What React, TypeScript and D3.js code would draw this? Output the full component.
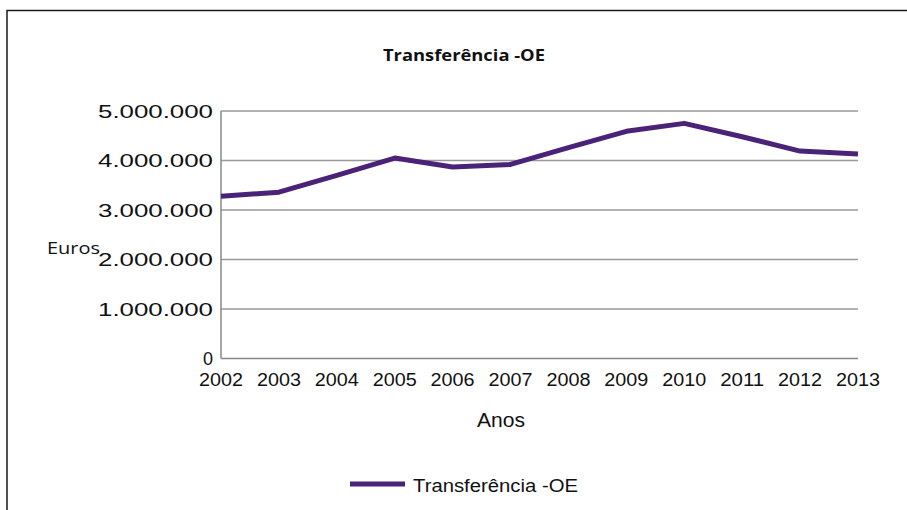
import React, { useRef, useEffect } from 'react';
import * as d3 from 'd3';

const years = ['2002', '2003', '2004', '2005', '2006', '2007', '2008', '2009', '2010', '2011', '2012', '2013'];
const transferencia = [3280000, 3360000, 3700000, 4050000, 3870000, 3920000, 4260000, 4590000, 4750000, 4480000, 4190000, 4130000];
const yTicks = [0, 1000000, 2000000, 3000000, 4000000, 5000000];
const seriesName = 'Transferência -OE';

const W = 907;
const H = 510;

export default function App() {
  const ref = useRef<SVGSVGElement>(null);

  useEffect(() => {
    const svg = d3.select(ref.current);
    svg.selectAll('*').remove();

    const left = 221, right = 858, top = 111, bottom = 358.5;
    const x = d3.scalePoint().domain(years).range([left, right]);
    const y = d3.scaleLinear().domain([0, 5000000]).range([bottom, top]);
    const fmt = (v: number) => d3.format(',')(v).replace(/,/g, '.');
    const sans = '"Liberation Sans", Arial, sans-serif';

    // frame (only left and top visible)
    svg.append('rect')
      .attr('x', 7).attr('y', 10.5)
      .attr('width', 920).attr('height', 520)
      .attr('fill', 'white')
      .attr('stroke', '#1a1a1a')
      .attr('stroke-width', 1.5);

    svg.append('text')
      .attr('x', 383).attr('y', 61)
      .attr('font-family', '"Open Sans", sans-serif')
      .attr('font-weight', 'bold')
      .attr('font-size', 16)
      .attr('textLength', 162)
      .attr('lengthAdjust', 'spacingAndGlyphs')
      .attr('fill', '#111')
      .text(seriesName);

    // gridlines
    svg.append('g')
      .selectAll('line')
      .data(yTicks.filter(d => d > 0))
      .enter()
      .append('line')
      .attr('x1', left).attr('x2', right)
      .attr('y1', d => y(d)).attr('y2', d => y(d))
      .attr('stroke', '#999')
      .attr('stroke-width', 1.5);

    // axes
    svg.append('line')
      .attr('x1', left).attr('x2', left)
      .attr('y1', top).attr('y2', bottom)
      .attr('stroke', '#888').attr('stroke-width', 1.5);
    svg.append('line')
      .attr('x1', left).attr('x2', right)
      .attr('y1', bottom).attr('y2', bottom)
      .attr('stroke', '#888').attr('stroke-width', 1.5);

    svg.append('g')
      .selectAll('text')
      .data(yTicks)
      .enter()
      .append('text')
      .attr('x', d => (d === 0 ? 213 : 98))
      .attr('y', d => y(d) + 6.5)
      .attr('text-anchor', d => (d === 0 ? 'end' : 'start'))
      .attr('font-family', sans)
      .attr('font-size', 18)
      .attr('textLength', d => (d === 0 ? null : 115))
      .attr('lengthAdjust', 'spacingAndGlyphs')
      .attr('fill', '#111')
      .text(d => fmt(d));

    svg.append('g')
      .selectAll('text')
      .data(years)
      .enter()
      .append('text')
      .attr('x', d => (x(d) as number) - 22)
      .attr('y', 386)
      .attr('font-family', sans)
      .attr('font-size', 17.5)
      .attr('textLength', 44)
      .attr('lengthAdjust', 'spacingAndGlyphs')
      .attr('fill', '#111')
      .text(d => d);

    svg.append('text')
      .attr('x', 477).attr('y', 427)
      .attr('font-family', sans)
      .attr('font-size', 20.5)
      .attr('textLength', 48)
      .attr('lengthAdjust', 'spacingAndGlyphs')
      .attr('fill', '#111')
      .text('Anos');

    svg.append('text')
      .attr('x', 47).attr('y', 254)
      .attr('font-family', '"Open Sans", sans-serif')
      .attr('font-size', 17)
      .attr('textLength', 53)
      .attr('lengthAdjust', 'spacingAndGlyphs')
      .attr('fill', '#111')
      .text('Euros');

    const line = d3.line<number>()
      .x((d, i) => x(years[i]) as number)
      .y(d => y(d));

    svg.append('path')
      .datum(transferencia)
      .attr('d', line)
      .attr('fill', 'none')
      .attr('stroke', '#4a2378')
      .attr('stroke-width', 5)
      .attr('stroke-linejoin', 'round');

    // legend
    svg.append('line')
      .attr('x1', 350).attr('x2', 405)
      .attr('y1', 484).attr('y2', 484)
      .attr('stroke', '#4a2378')
      .attr('stroke-width', 5);
    svg.append('text')
      .attr('x', 413).attr('y', 492)
      .attr('font-family', sans)
      .attr('font-size', 17.5)
      .attr('textLength', 165)
      .attr('lengthAdjust', 'spacingAndGlyphs')
      .attr('fill', '#111')
      .text(seriesName);
  }, []);

  return (
    <svg
      ref={ref}
      width={W}
      height={H}
      style={{ position: 'absolute', left: 0, top: 0, background: 'white' }}
    />
  );
}
